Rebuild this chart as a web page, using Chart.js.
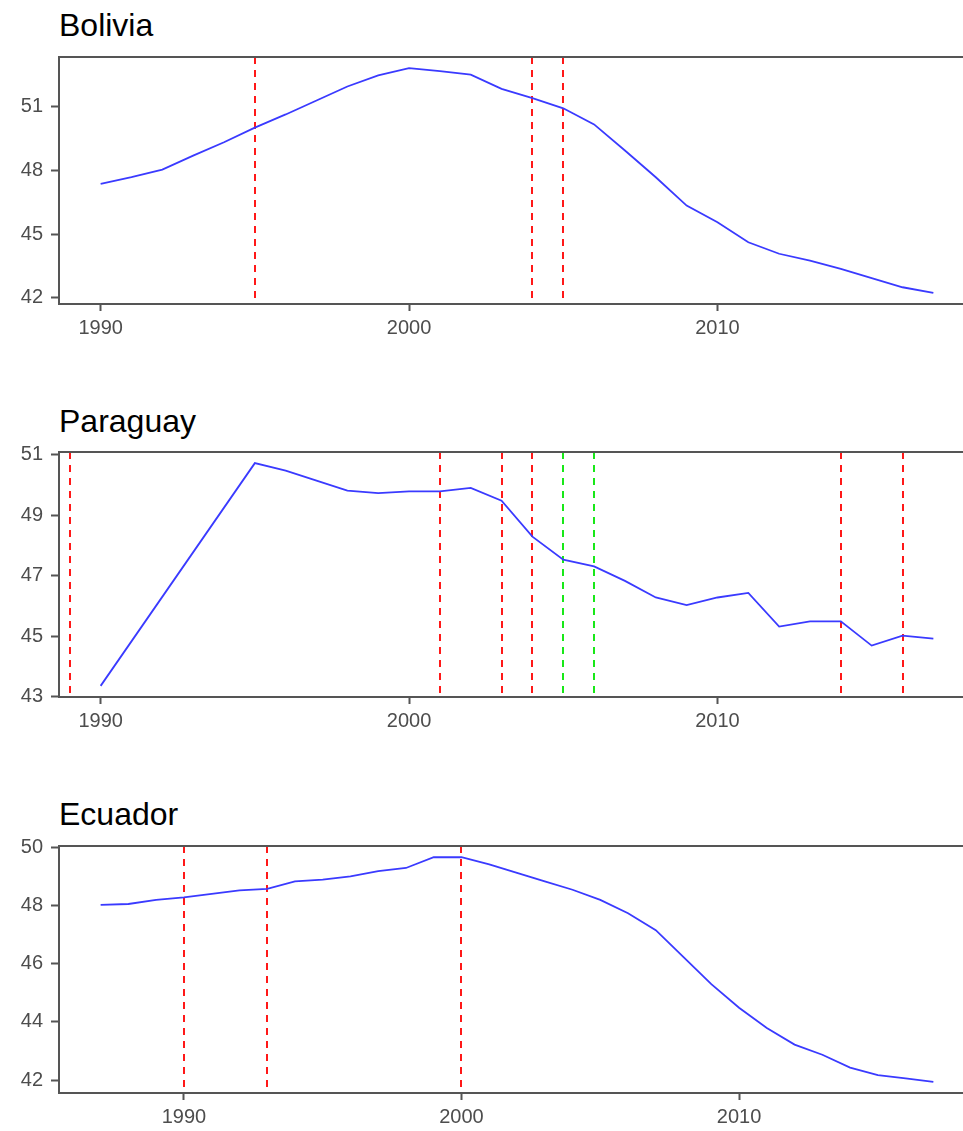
<!DOCTYPE html>
<html>
<head>
<meta charset="utf-8">
<script src="https://cdn.jsdelivr.net/npm/chart.js@4/dist/chart.umd.min.js"></script>
<style>
    html, body {
        margin: 0;
        padding: 0;
        background: #ffffff;
        overflow: hidden;
        width: 963px;
        height: 1131px;
    }
    .title {
        position: absolute;
        left: 59px;
        font-family: "Liberation Sans", Arial, sans-serif;
        font-size: 32px;
        line-height: 32px;
        color: #000000;
    }
    canvas {
        position: absolute;
        left: 0;
    }
</style>
</head>
<body>
<div class="title" style="top: 9px">Bolivia</div>
<canvas id="boliviaChart" width="975" height="307" style="top: 37px"></canvas>

<div class="title" style="top: 405px">Paraguay</div>
<canvas id="paraguayChart" width="975" height="305" style="top: 432px"></canvas>

<div class="title" style="top: 798px">Ecuador</div>
<canvas id="ecuadorChart" width="975" height="305" style="top: 826px"></canvas>

<script>
// Bolivia
const boliviaYears = [1990, 1991, 1992, 1993, 1994, 1995, 1996, 1997, 1998, 1999, 2000, 2001, 2002, 2003,
    2004, 2005, 2006, 2007, 2008, 2009, 2010, 2011, 2012, 2013, 2014, 2015, 2016, 2017];
const boliviaValues = [47.37, 47.68, 48.04, 48.70, 49.33, 50.02, 50.64, 51.30, 51.96, 52.48, 52.82, 52.68, 52.52, 51.85,
    51.41, 50.93, 50.17, 48.94, 47.68, 46.34, 45.56, 44.61, 44.07, 43.75, 43.36, 42.92, 42.49, 42.23];
const boliviaRed = [1995, 2004, 2005];
const boliviaGreen = [];
const boliviaYTicks = [42, 45, 48, 51];

// Paraguay
const paraguayYears = [1990, 1995, 1996, 1997, 1998, 1999, 2000, 2001, 2002, 2003,
    2004, 2005, 2006, 2007, 2008, 2009, 2010, 2011, 2012, 2013, 2014, 2015, 2016, 2017];
const paraguayValues = [43.36, 50.72, 50.47, 50.14, 49.81, 49.73, 49.79, 49.79, 49.90, 49.48,
    48.29, 47.53, 47.31, 46.83, 46.28, 46.03, 46.28, 46.43, 45.32, 45.49, 45.49, 44.69, 45.02, 44.92];
const paraguayRed = [1989, 2001, 2003, 2004, 2014, 2016];
const paraguayGreen = [2005, 2006];
const paraguayYTicks = [43, 45, 47, 49, 51];

// Ecuador
const ecuadorYears = [1987, 1988, 1989, 1990, 1991, 1992, 1993, 1994, 1995, 1996, 1997, 1998, 1999, 2000, 2001, 2002,
    2003, 2004, 2005, 2006, 2007, 2008, 2009, 2010, 2011, 2012, 2013, 2014, 2015, 2016, 2017];
const ecuadorValues = [48.03, 48.06, 48.20, 48.29, 48.41, 48.53, 48.58, 48.84, 48.90, 49.01, 49.19, 49.30, 49.67, 49.67, 49.42, 49.13,
    48.84, 48.55, 48.20, 47.74, 47.16, 46.23, 45.30, 44.49, 43.79, 43.22, 42.87, 42.43, 42.17, 42.06, 41.94];
const ecuadorRed = [1990, 1993, 2000];
const ecuadorGreen = [];
const ecuadorYTicks = [42, 44, 46, 48, 50];

const xTicks = [1990, 2000, 2010];

const axisGrey = "#555555";
const textGrey = "#4d4d4d";
const fontFamily = "'Liberation Sans', Arial, sans-serif";

// ggplot style 5% expansion of the data range
function expand(values) {
    const lo = Math.min(...values);
    const hi = Math.max(...values);
    const pad = (hi - lo) * 0.05;
    return { min: lo - pad, max: hi + pad };
}

// full panel border + dashed vertical lines
const panelPlugin = {
    id: "panel",
    beforeDatasetsDraw(chart, args, opts) {
        const { ctx, chartArea, scales } = chart;
        ctx.save();
        ctx.lineWidth = 1.8;
        ctx.setLineDash([7, 6]);
        const drawLines = (list, color) => {
            ctx.strokeStyle = color;
            list.forEach((yr) => {
                const x = Math.round(scales.x.getPixelForValue(yr));
                ctx.beginPath();
                ctx.moveTo(x, chartArea.top);
                ctx.lineTo(x, chartArea.bottom);
                ctx.stroke();
            });
        };
        drawLines(opts.red || [], "#ff0000");
        drawLines(opts.green || [], "#00e600");
        ctx.restore();
    },
    afterDraw(chart) {
        const { ctx, chartArea } = chart;
        ctx.save();
        ctx.strokeStyle = axisGrey;
        ctx.lineWidth = 2;
        ctx.strokeRect(chartArea.left, chartArea.top, chartArea.right - chartArea.left, chartArea.bottom - chartArea.top);
        ctx.restore();
    },
};

function makePanel(id, years, values, yTicks, red, green, xAxisHeight) {
    const ctx = document.getElementById(id).getContext("2d");
    const xr = expand(years);
    const yr = expand(values);
    return new Chart(ctx, {
        type: "line",
        data: {
            datasets: [
                {
                    data: years.map((yrVal, i) => ({ x: yrVal, y: values[i] })),
                    borderColor: "#3a3aff",
                    borderWidth: 1.8,
                    pointRadius: 0,
                    tension: 0,
                    fill: false,
                },
            ],
        },
        options: {
            responsive: false,
            animation: false,
            layout: { padding: { top: 15, left: 0, right: 0, bottom: 0 } },
            plugins: {
                legend: { display: false },
                tooltip: { enabled: false },
                panel: { red: red, green: green },
            },
            scales: {
                x: {
                    type: "linear",
                    min: xr.min,
                    max: xr.max,
                    afterBuildTicks: (axis) => {
                        axis.ticks = xTicks.map((v) => ({ value: v }));
                    },
                    afterFit: (axis) => {
                        axis.height = xAxisHeight;
                    },
                    grid: {
                        drawOnChartArea: false,
                        drawTicks: true,
                        tickLength: 7,
                        tickWidth: 2,
                        color: axisGrey,
                    },
                    border: { display: false },
                    ticks: {
                        color: textGrey,
                        font: { family: fontFamily, size: 20 },
                        padding: 5,
                        maxRotation: 0,
                        callback: (v) => String(v),
                    },
                },
                y: {
                    type: "linear",
                    min: yr.min,
                    max: yr.max,
                    afterBuildTicks: (axis) => {
                        axis.ticks = yTicks.map((v) => ({ value: v }));
                    },
                    afterFit: (axis) => {
                        axis.width = 59;
                    },
                    grid: {
                        drawOnChartArea: false,
                        drawTicks: true,
                        tickLength: 8,
                        tickWidth: 2,
                        color: axisGrey,
                    },
                    border: { display: false },
                    ticks: {
                        color: textGrey,
                        font: { family: fontFamily, size: 20 },
                        padding: 8,
                        callback: (v) => String(v),
                    },
                },
            },
        },
        plugins: [panelPlugin],
    });
}

makePanel("boliviaChart", boliviaYears, boliviaValues, boliviaYTicks, boliviaRed, boliviaGreen, 40);
makePanel("paraguayChart", paraguayYears, paraguayValues, paraguayYTicks, paraguayRed, paraguayGreen, 40);
makePanel("ecuadorChart", ecuadorYears, ecuadorValues, ecuadorYTicks, ecuadorRed, ecuadorGreen, 38);
</script>
</body>
</html>
